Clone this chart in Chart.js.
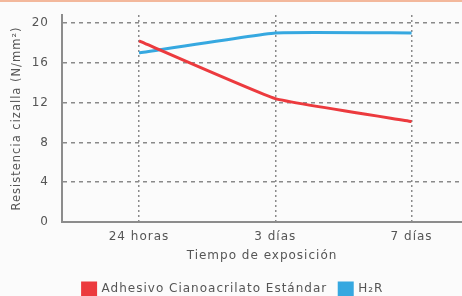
<!DOCTYPE html>
<html><head><meta charset="utf-8">
<script src="https://cdn.jsdelivr.net/npm/chart.js@4"></script>
<style>
html,body{margin:0;padding:0;background:#fbfbfb;}
#wrap{position:relative;width:462px;height:296px;}
#topline{position:absolute;left:0;top:0;width:462px;height:2px;background:#f3b89c;}
</style></head><body>
<div id="wrap"><canvas id="c" width="462" height="296"></canvas><div id="topline"></div></div>
<script>
const categories = ['24 horas', '3 días', '7 días'];
const seriesNames = ['Adhesivo Cianoacrilato Estándar', 'H₂R'];
const adhesivoValues = [18.2, 12.4, 10.1];
const h2rValues = [17.0, 19.0, 19.0];
const yTickValues = [0, 4, 8, 12, 16, 20];

const toPoints = vals => vals.map((v, i) => ({x: i, y: v}));
const gridGray = '#8a8a8a';
const txt = '#555';
const fam = 'DejaVu Sans';

const spacing = {
  id: 'spacing',
  beforeUpdate(chart) { chart.ctx.letterSpacing = '1px'; },
  beforeDraw(chart) { chart.ctx.letterSpacing = '1px'; }
};

new Chart(document.getElementById('c'), {
  type: 'line',
  plugins: [spacing],
  data: {
    datasets: [
      {label: seriesNames[0], data: toPoints(adhesivoValues), borderColor: '#ec3a3e', backgroundColor: '#ec3a3e',
       borderWidth: 3, pointRadius: 0, tension: 0.1, fill: false},
      {label: seriesNames[1], data: toPoints(h2rValues), borderColor: '#36a8e0', backgroundColor: '#36a8e0',
       borderWidth: 3, pointRadius: 0, tension: 0.1, fill: false}
    ]
  },
  options: {
    responsive: false, animation: false,
    layout: {padding: {top: 15, left: 4, right: 0, bottom: -9}},
    plugins: {
      tooltip: {enabled: false},
      legend: {position: 'bottom',
        labels: {boxWidth: 13, boxHeight: 12, padding: 12, color: txt, font: {family: fam, size: 12}}}
    },
    scales: {
      x: {type: 'linear', min: -0.565, max: 2.37,
        afterBuildTicks: s => { s.ticks = categories.map((c, i) => ({value: i})); },
        afterFit: s => { s.height = 49; s.paddingLeft = 0; s.paddingRight = 0; },
        ticks: {callback: v => categories[v], color: txt, font: {family: fam, size: 12}, padding: 8, maxRotation: 0},
        grid: {color: gridGray, lineWidth: 1.5, drawTicks: false},
        border: {display: true, color: '#8c8c8c', width: 2, dash: [2, 3]},
        title: {display: true, text: 'Tiempo de exposición', color: txt, font: {family: fam, size: 12}, padding: {top: 5, bottom: 8}}
      },
      y: {min: 0, max: 20.8,
        afterBuildTicks: s => { s.ticks = yTickValues.map(v => ({value: v})); },
        afterFit: s => { s.width = 58; s.paddingTop = 0; s.paddingBottom = 0; },
        ticks: {color: txt, font: {family: fam, size: 12}, padding: 13},
        grid: {color: gridGray, lineWidth: 1.5, drawTicks: false},
        border: {display: true, color: '#8c8c8c', width: 2, dash: [4, 4]},
        title: {display: true, text: 'Resistencia cizalla (N/mm²)', color: txt, font: {family: fam, size: 11.5}, padding: {top: 6, bottom: 0}}
      }
    }
  }
});
</script></body></html>
